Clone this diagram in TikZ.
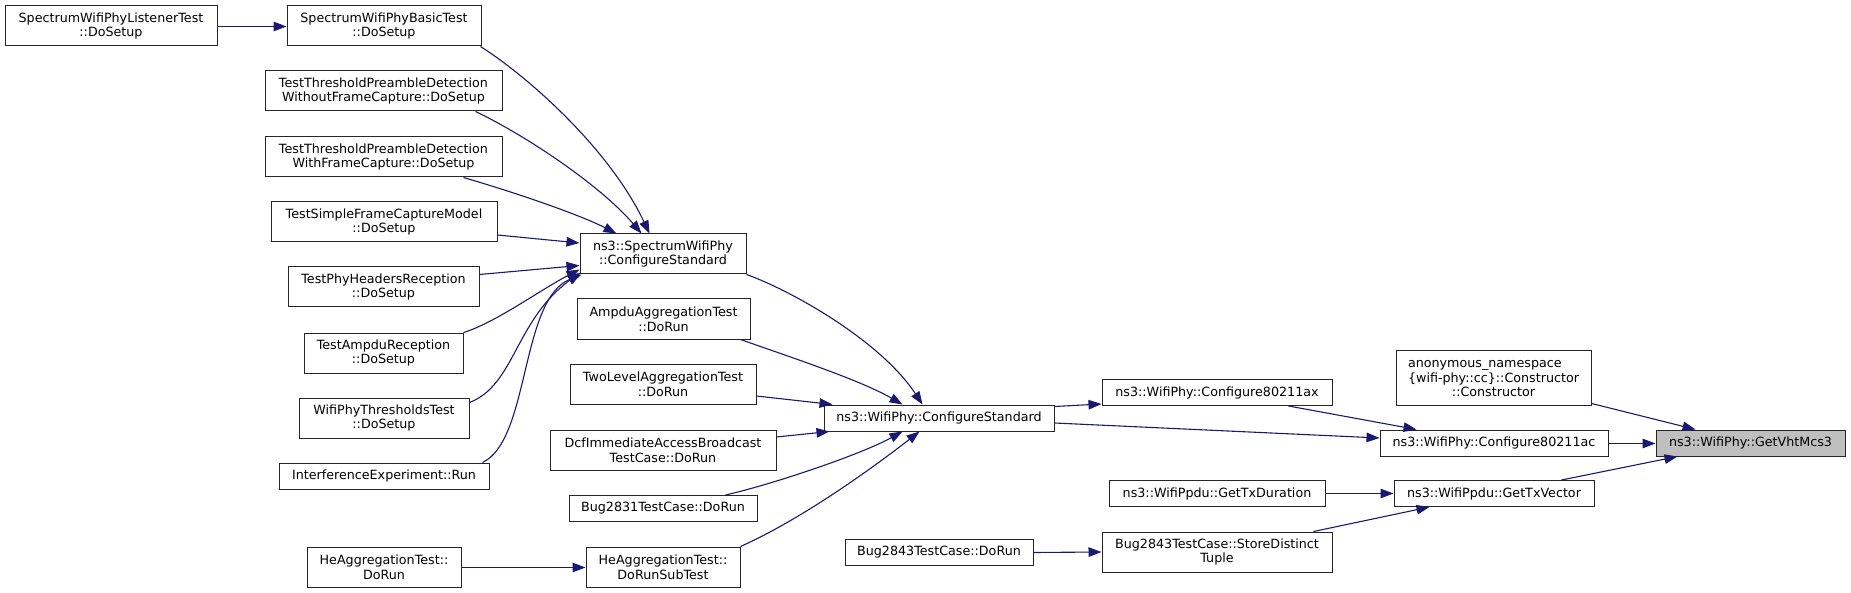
\documentclass[tikz,border=0pt]{standalone}
\usepackage{fontspec}
\setmainfont{DejaVu Sans}
\usetikzlibrary{arrows.meta,calc}
\definecolor{edgeblue}{HTML}{191970}
\definecolor{nodegray}{HTML}{BFBFBF}
\begin{document}
\begin{tikzpicture}[x=1pt,y=-1pt,
  box/.style={draw=black!85, line width=1pt, fill=white, inner sep=0pt, align=center,
    font=\fontsize{12.7pt}{14.7pt}\selectfont},
  edge/.style={draw=edgeblue, line width=1.1pt, -{Triangle[length=13pt,width=9.5pt]}}]
\path[fill=white,use as bounding box] (0,0) rectangle (1851,593);

% left column
\node[box, minimum width=212pt, minimum height=40pt] (listener) at (111,26) {SpectrumWifiPhyListenerTest\\::DoSetup};
\node[box, minimum width=194pt, minimum height=40pt] (basic) at (384,26) {SpectrumWifiPhyBasicTest\\::DoSetup};
\node[box, minimum width=237pt, minimum height=40pt] (without) at (383.5,91) {TestThresholdPreambleDetection\\WithoutFrameCapture::DoSetup};
\node[box, minimum width=237pt, minimum height=40pt] (withfc) at (383.5,157) {TestThresholdPreambleDetection\\WithFrameCapture::DoSetup};
\node[box, minimum width=226pt, minimum height=40pt] (simple) at (384,222) {TestSimpleFrameCaptureModel\\::DoSetup};
\node[box, minimum width=191pt, minimum height=40pt] (phyhdr) at (383.5,287) {TestPhyHeadersReception\\::DoSetup};
\node[box, minimum width=159pt, minimum height=40pt] (ampdurx) at (383.5,353) {TestAmpduReception\\::DoSetup};
\node[box, minimum width=170pt, minimum height=40pt] (thresh) at (384,418) {WifiPhyThresholdsTest\\::DoSetup};
\node[box, minimum width=210pt, minimum height=26pt] (interf) at (384,476) {InterferenceExperiment::Run};
\node[box, minimum width=154pt, minimum height=40pt] (heaggrun) at (384,567) {HeAggregationTest::\\DoRun};

% middle column
\node[box, minimum width=166pt, minimum height=40pt] (speccs) at (663,254) {ns3::SpectrumWifiPhy\\::ConfigureStandard};
\node[box, minimum width=173pt, minimum height=40pt] (ampduagg) at (663.5,319) {AmpduAggregationTest\\::DoRun};
\node[box, minimum width=186pt, minimum height=40pt] (twolevel) at (663,384) {TwoLevelAggregationTest\\::DoRun};
\node[box, minimum width=226pt, minimum height=40pt] (dcf) at (663,450) {DcfImmediateAccessBroadcast\\TestCase::DoRun};
\node[box, minimum width=188pt, minimum height=26pt] (bug2831) at (663,508.5) {Bug2831TestCase::DoRun};
\node[box, minimum width=154pt, minimum height=40pt] (heaggsub) at (663,567) {HeAggregationTest::\\DoRunSubTest};

\node[box, minimum width=230pt, minimum height=26pt] (wificfg) at (939,418) {ns3::WifiPhy::ConfigureStandard};
\node[box, minimum width=188pt, minimum height=26pt] (bugrun) at (939,552.5) {Bug2843TestCase::DoRun};

\node[box, minimum width=230pt, minimum height=26pt] (cfgax) at (1217,392.5) {ns3::WifiPhy::Configure80211ax};
\node[box, minimum width=216pt, minimum height=26pt] (txdur) at (1217,493.5) {ns3::WifiPpdu::GetTxDuration};
\node[box, minimum width=230pt, minimum height=40pt] (store) at (1217,552) {Bug2843TestCase::StoreDistinct\\Tuple};

\node[box, minimum width=195pt, minimum height=55pt] (anon) at (1493.5,377.5) {\rlap{anonymous\_namespace}\phantom{\{wifi-phy::cc\}::Constructor}\\\{wifi-phy::cc\}::Constructor\\::Constructor};
\node[box, minimum width=228pt, minimum height=26pt] (cfgac) at (1494,443) {ns3::WifiPhy::Configure80211ac};
\node[box, minimum width=200pt, minimum height=26pt] (txvec) at (1494,493.5) {ns3::WifiPpdu::GetTxVector};

\node[box, fill=nodegray, minimum width=189pt, minimum height=26pt] (vht) at (1750.5,443) {ns3::WifiPhy::GetVhtMcs3};

% edges
\draw[edge] ($(listener.east)+(0,0.5)$) -- ($(basic.west)+(0,0.5)$);
\draw[edge] ($(basic.south east)+(-1,0)$) .. controls (530,78) and (610,150) .. ($(speccs.north west)+(70,0)$);
\draw[edge] ($(without.south east)+(-27,0)$) .. controls (525,135) and (600,185) .. ($(speccs.north west)+(62,0)$);
\draw[edge] ($(withfc.south east)+(-39,0)$) .. controls (520,194) and (580,215) .. ($(speccs.north west)+(37,0)$);
\draw[edge] ($(simple.east)+(0,13)$) -- ($(speccs.west)+(0,-11)$);
\draw[edge] ($(phyhdr.north east)+(0,8)$) -- ($(speccs.south west)+(0,-9)$);
\draw[edge] (ampdurx.north east) .. controls (495,323) and (540,290) .. ($(speccs.south west)+(0,-5)$);
\draw[edge] ($(thresh.north east)+(0,5)$) .. controls (515,385) and (515,320) .. ($(speccs.south west)+(1,-2)$);
\draw[edge] ($(interf.north east)+(-7,0)$) .. controls (530,440) and (520,300) .. ($(speccs.south west)+(2,0)$);

\draw[edge] (speccs.south east) .. controls (790,290) and (880,340) .. ($(wificfg.north west)+(99,0)$);
\draw[edge] ($(ampduagg.south east)+(-10,0)$) .. controls (790,357) and (860,380) .. ($(wificfg.north west)+(79,0)$);
\draw[edge] ($(twolevel.east)+(0,12)$) -- ($(wificfg.north west)+(9,0)$);
\draw[edge] ($(dcf.east)+(0,-13)$) -- ($(wificfg.south west)+(6,0)$);
\draw[edge] ($(bug2831.north east)+(-32,0)$) .. controls (770,485) and (860,455) .. ($(wificfg.south west)+(79,0)$);
\draw[edge] (heaggsub.north east) .. controls (800,520) and (870,470) .. ($(wificfg.south west)+(96,0)$);
\draw[edge] ($(heaggrun.east)+(0,0.5)$) -- ($(heaggsub.west)+(0,0.5)$);

\draw[edge] ($(wificfg.north east)+(0,2)$) -- ($(cfgax.south west)+(0,-2)$);
\draw[edge] ($(wificfg.east)+(0,5)$) -- ($(cfgac.west)+(0,-5)$);
\draw[edge] ($(cfgax.south east)+(-44,0)$) -- ($(cfgac.north west)+(37,0)$);
\draw[edge] ($(anon.south east)+(0,-2)$) -- ($(vht.north west)+(40,0)$);
\draw[edge] ($(cfgac.east)+(0,0.5)$) -- ($(vht.west)+(0,0.5)$);
\draw[edge] ($(txvec.north east)+(-33,0)$) -- ($(vht.south west)+(22,0)$);
\draw[edge] (txdur.east) -- (txvec.west);
\draw[edge] ($(store.north east)+(-19,0)$) -- ($(txvec.south west)+(36,0)$);
\draw[edge] (bugrun.east) -- (store.west);
\end{tikzpicture}
\end{document}
